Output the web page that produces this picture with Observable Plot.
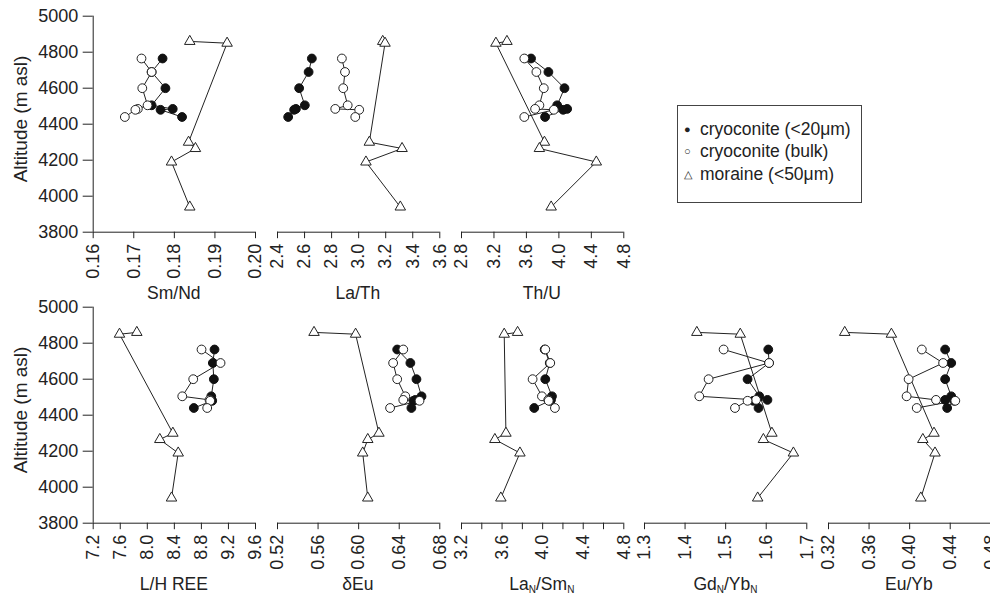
<!DOCTYPE html>
<html>
<head>
<meta charset="utf-8">
<script src="https://cdn.jsdelivr.net/npm/d3@7"></script>
<script src="https://cdn.jsdelivr.net/npm/@observablehq/plot@0.6"></script>
<style>
  body { margin: 0; background: #fff; }
  #chart { position: relative; width: 990px; height: 595px; overflow: hidden; background: #fff;
           font-family: "Liberation Sans", Arial, Helvetica, sans-serif; color: #222; }
  #chart svg { position: absolute; overflow: visible; }
  .ttl { position: absolute; text-align: center; font-size: 17.5px; line-height: 1; white-space: nowrap; color: #222; }
  .ttl sub { font-size: 10px; vertical-align: -3px; line-height: 0; color: #222; }
  .ylab { position: absolute; font-size: 19px; line-height: 1; white-space: nowrap;
          transform: translate(-50%, -50%) rotate(-90deg); }
  #legend { position: absolute; left: 677px; top: 105px; width: 185px; height: 98px;
            border: 1px solid #444; font-size: 17.5px; line-height: 22.4px; padding-top: 12px; box-sizing: border-box; }
  #legend div { position: relative; padding-left: 22px; white-space: nowrap; }
  #legend span.sym { position: absolute; left: 6px; font-size: 11px; }
</style>
</head>
<body>
<div id="chart"></div>
<script>
// ---------- data ----------
const cryoAlt = [4765, 4690, 4600, 4505, 4485, 4480, 4440];   // cryoconite sample altitudes (m asl)
const morAlt  = [4860, 4850, 4300, 4265, 4190, 3940];         // moraine sample altitudes (m asl)
const altTicks = [3800, 4000, 4200, 4400, 4600, 4800, 5000];

const smndFine = [0.1771, 0.1744, 0.1778, 0.1744, 0.1796, 0.1766, 0.1819];
const smndBulk = [0.1719, 0.1744, 0.1721, 0.1734, 0.1710, 0.1704, 0.1678];
const smndMor  = [0.1838, 0.1930, 0.1835, 0.1852, 0.1793, 0.1838];
const smndTicks = [0.16, 0.17, 0.18, 0.19, 0.20];

const lathFine = [2.654, 2.630, 2.560, 2.602, 2.536, 2.523, 2.479];
const lathBulk = [2.876, 2.899, 2.886, 2.919, 2.827, 3.004, 2.975];
const lathMor  = [3.178, 3.195, 3.079, 3.321, 3.054, 3.308];
const lathTicks = [2.4, 2.6, 2.8, 3.0, 3.2, 3.4, 3.6];

const thuFine = [3.657, 3.871, 4.069, 3.979, 4.102, 4.053, 3.830];
const thuBulk = [3.574, 3.723, 3.814, 3.760, 3.707, 3.938, 3.574];
const thuMor  = [3.360, 3.224, 3.822, 3.760, 4.461, 3.905];
const thuTicks = [2.8, 3.2, 3.6, 4.0, 4.4, 4.8];

const lhFine = [8.994, 8.969, 8.984, 8.946, 8.950, 8.960, 8.688];
const lhBulk = [8.802, 9.083, 8.679, 8.517, 8.920, 8.930, 8.886];
const lhMor  = [7.845, 7.589, 8.378, 8.185, 8.457, 8.358];
const lhTicks = [7.2, 7.6, 8.0, 8.4, 8.8, 9.2, 9.6];

const euFine = [0.638, 0.651, 0.657, 0.662, 0.656, 0.654, 0.652];
const euBulk = [0.644, 0.634, 0.638, 0.646, 0.644, 0.660, 0.631];
const euMor  = [0.556, 0.597, 0.620, 0.609, 0.604, 0.609];
const euTicks = [0.52, 0.56, 0.60, 0.64, 0.68];

const lasmFine = [4.020, 4.070, 4.026, 4.092, 4.082, 4.070, 3.917];
const lasmBulk = [4.026, 4.075, 3.901, 3.993, 4.055, 4.060, 4.121];
const lasmMor  = [3.753, 3.621, 3.638, 3.529, 3.776, 3.588];
const lasmTicks = [3.2, 3.4, 3.6, 3.8, 4.0, 4.2, 4.4, 4.6, 4.8];
const lasmLabels = [3.2, 3.6, 4.0, 4.4, 4.8];

const gdybFine = [1.605, 1.607, 1.554, 1.583, 1.603, 1.568, 1.581];
const gdybBulk = [1.495, 1.607, 1.458, 1.435, 1.575, 1.554, 1.523];
const gdybMor  = [1.429, 1.536, 1.614, 1.593, 1.667, 1.579];
const gdybTicks = [1.3, 1.4, 1.5, 1.6, 1.7];

const euybFine = [0.435, 0.441, 0.435, 0.441, 0.435, 0.444, 0.437];
const euybBulk = [0.412, 0.433, 0.399, 0.397, 0.426, 0.445, 0.407];
const euybMor  = [0.336, 0.382, 0.424, 0.413, 0.425, 0.411];
const euybTicks = [0.32, 0.36, 0.40, 0.44, 0.48];

const legendLabels = ["cryoconite (<20\u03bcm)", "cryoconite (bulk)", "moraine (<50\u03bcm)"];

// ---------- layout ----------
const colX = [92.7, 276.7, 460.7, 644.3, 827.7];
const rowTop = [0, 291];
const innerW = 162.3;

const panels = [
  {label: "Sm/Nd", row: 0, col: 0, ticks: smndTicks, fmt: ".2f", fine: smndFine, bulk: smndBulk, mor: smndMor},
  {label: "La/Th", row: 0, col: 1, ticks: lathTicks, fmt: ".1f", fine: lathFine, bulk: lathBulk, mor: lathMor},
  {label: "Th/U", row: 0, col: 2, ticks: thuTicks, fmt: ".1f", fine: thuFine, bulk: thuBulk, mor: thuMor},
  {label: "L/H REE", row: 1, col: 0, ticks: lhTicks, fmt: ".1f", fine: lhFine, bulk: lhBulk, mor: lhMor},
  {label: "\u03b4Eu", row: 1, col: 1, ticks: euTicks, fmt: ".2f", fine: euFine, bulk: euBulk, mor: euMor},
  {label: "La<sub>N</sub>/Sm<sub>N</sub>", row: 1, col: 2, ticks: lasmTicks, labels: lasmLabels, fmt: ".1f", fine: lasmFine, bulk: lasmBulk, mor: lasmMor},
  {label: "Gd<sub>N</sub>/Yb<sub>N</sub>", row: 1, col: 3, ticks: gdybTicks, fmt: ".1f", fine: gdybFine, bulk: gdybBulk, mor: gdybMor},
  {label: "Eu/Yb", row: 1, col: 4, ticks: euybTicks, fmt: ".2f", fine: euybFine, bulk: euybBulk, mor: euybMor}
];

const chart = document.getElementById("chart");
const ink = "#222";

for (const p of panels) {
  const ml = p.col === 0 ? 92.7 : 20, mr = 20;
  const fine = cryoAlt.map((a, i) => ({alt: a, v: p.fine[i]}));
  const bulk = cryoAlt.map((a, i) => ({alt: a, v: p.bulk[i]}));
  const mor = morAlt.map((a, i) => ({alt: a, v: p.mor[i]}));
  const f = d3.format(p.fmt);
  const lab = p.labels ? new Set(p.labels.map(f)) : null;
  const dom = [p.ticks[0], p.ticks[p.ticks.length - 1]];
  const marks = [
    Plot.ruleY([3800], {stroke: ink, strokeWidth: 1}),
    Plot.axisX({ticks: p.ticks, tickFormat: d => (lab && !lab.has(f(d))) ? "" : f(d),
                tickRotate: -90, tickSize: 6.5, tickPadding: 5, fontSize: 18, stroke: ink, fill: ink}),
    Plot.line(mor, {x: "v", y: "alt", stroke: ink, strokeWidth: 1}),
    Plot.line(fine, {x: "v", y: "alt", stroke: ink, strokeWidth: 1}),
    Plot.line(bulk, {x: "v", y: "alt", stroke: ink, strokeWidth: 1}),
    Plot.dot(mor, {x: "v", y: "alt", symbol: "triangle", r: 3.9, fill: "white", stroke: ink, strokeWidth: 1}),
    Plot.dot(fine, {x: "v", y: "alt", r: 4.4, fill: "#111", stroke: "#111", strokeWidth: 1}),
    Plot.dot(bulk, {x: "v", y: "alt", r: 4.4, fill: "white", stroke: ink, strokeWidth: 1})
  ];
  if (p.col === 0) {
    marks.push(Plot.ruleX([dom[0]], {stroke: ink, strokeWidth: 1}));
    marks.push(Plot.axisY({ticks: altTicks, tickFormat: d3.format("d"), tickSize: 10, tickPadding: 5,
                           fontSize: 18, stroke: ink, fill: ink}));
  }
  const svg = Plot.plot({
    width: ml + innerW + mr,
    height: 300,
    marginLeft: ml, marginRight: mr, marginTop: 15.7, marginBottom: 68.3,
    x: {domain: dom, label: null},
    y: {domain: [3800, 5000], label: null, axis: null},
    style: {background: "transparent", fontFamily: "Liberation Sans, Arial, Helvetica, sans-serif",
            fontSize: "18px", color: ink, overflow: "visible"},
    marks
  });
  svg.style.left = (colX[p.col] - ml) + "px";
  svg.style.top = rowTop[p.row] + "px";
  svg.style.maxWidth = "none";
  chart.appendChild(svg);

  const t = document.createElement("div");
  t.className = "ttl";
  t.innerHTML = p.label;
  t.style.left = colX[p.col] + "px";
  t.style.width = innerW + "px";
  t.style.top = (rowTop[p.row] + 285) + "px";
  chart.appendChild(t);
}

for (const r of [0, 1]) {
  const y = document.createElement("div");
  y.className = "ylab";
  y.textContent = "Altitude (m asl)";
  y.style.left = "20px";
  y.style.top = (rowTop[r] + 119) + "px";
  chart.appendChild(y);
}

const legend = document.createElement("div");
legend.id = "legend";
const syms = ["\u25cf", "\u25cb", "\u25b3"];
legendLabels.forEach((l, i) => {
  const row = document.createElement("div");
  const s = document.createElement("span");
  s.className = "sym";
  s.textContent = syms[i];
  row.appendChild(s);
  row.appendChild(document.createTextNode(l));
  legend.appendChild(row);
});
chart.appendChild(legend);
</script>
</body>
</html>
